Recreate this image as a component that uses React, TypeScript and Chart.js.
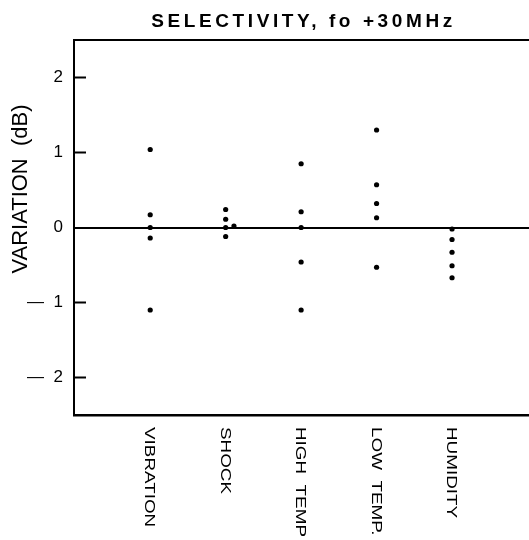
import React, { useEffect, useRef } from "react";
import { Chart, registerables } from "chart.js";

Chart.register(...registerables);

const categories = ["VIBRATION", "SHOCK", "HIGH  TEMP", "LOW  TEMP.", "HUMIDITY"];
const vibration = [1.04, 0.17, 0.0, -0.14, -1.1];
const shock = [0.24, 0.11, 0.0, -0.12, 0.02];
const shockXOffsets = [0, 0, 0, 0, 0.11];
const highTemp = [0.85, 0.21, 0.0, -0.46, -1.1];
const lowTemp = [1.3, 0.57, 0.32, 0.13, -0.53];
const humidity = [-0.02, -0.16, -0.33, -0.51, -0.67];
const yTickValues = [-2, -1, 0, 1, 2];
const titleText = "SELECTIVITY, fo +30MHz";
const yAxisTitle = "VARIATION  (dB)";

const seriesValues = [vibration, shock, highTemp, lowTemp, humidity];
const seriesOffsets = [null, shockXOffsets, null, null, null];

const FONT = "'Liberation Sans', Arial, sans-serif";

export default function App() {
  const ref = useRef<HTMLCanvasElement | null>(null);

  useEffect(() => {
    if (!ref.current) return;
    const points: { x: number; y: number }[] = [];
    seriesValues.forEach((vals, ci) => {
      const offs = seriesOffsets[ci];
      vals.forEach((v, i) => {
        points.push({ x: ci + 1 + (offs ? offs[i] : 0), y: v });
      });
    });

    const overlay = {
      id: "overlay",
      afterDraw(chart: any) {
        const ctx = chart.ctx as CanvasRenderingContext2D;
        const area = chart.chartArea;
        const xs = chart.scales.x;
        const ys = chart.scales.y;
        ctx.save();
        // top border
        ctx.strokeStyle = "#000";
        ctx.lineWidth = 2;
        ctx.beginPath();
        ctx.moveTo(area.left, area.top);
        ctx.lineTo(area.right, area.top);
        ctx.stroke();
        // inward ticks
        yTickValues.forEach((v) => {
          if (v === 0) return;
          const py = ys.getPixelForValue(v);
          ctx.beginPath();
          ctx.moveTo(area.left, py);
          ctx.lineTo(area.left + 12, py);
          ctx.stroke();
        });
        // title
        ctx.fillStyle = "#000";
        (ctx as any).letterSpacing = "3.6px";
        ctx.font = `bold 19px ${FONT}`;
        ctx.textAlign = "center";
        ctx.textBaseline = "middle";
        ctx.fillText(titleText, (area.left + area.right) / 2 + 2, 22);
        // y title
        (ctx as any).letterSpacing = "0px";
        ctx.save();
        ctx.translate(21, 189);
        ctx.rotate(-Math.PI / 2);
        ctx.font = `22px ${FONT}`;
        ctx.textAlign = "center";
        ctx.textBaseline = "middle";
        ctx.fillText(yAxisTitle, 0, 0);
        ctx.restore();
        // x category labels (rotated clockwise)
        categories.forEach((c, i) => {
          const px = xs.getPixelForValue(i + 1);
          ctx.save();
          ctx.translate(px - 1, 427);
          ctx.rotate(Math.PI / 2);
          ctx.scale(1.3, 1);
          ctx.font = `14.5px ${FONT}`;
          ctx.textAlign = "left";
          ctx.textBaseline = "middle";
          ctx.fillText(c, 0, 0);
          ctx.restore();
        });
        ctx.restore();
      },
    };

    const chart = new Chart(ref.current, {
      type: "scatter",
      data: {
        datasets: [
          {
            data: points,
            backgroundColor: "#000",
            borderColor: "#000",
            pointRadius: 2.6,
            pointBorderWidth: 0,
          },
        ],
      },
      options: {
        responsive: false,
        animation: false,
        devicePixelRatio: 1,
        layout: { autoPadding: false, padding: { top: 40, left: 0, right: 0, bottom: 0 } },
        plugins: {
          legend: { display: false },
          tooltip: { enabled: false },
          title: { display: false },
        },
        scales: {
          x: {
            type: "linear",
            min: -0.01,
            max: 6.02,
            ticks: { display: false },
            grid: { display: false, drawTicks: false },
            border: { display: true, color: "#000", width: 2.5 },
            afterFit: (scale: any) => {
              scale.height = 125;
            },
          },
          y: {
            type: "linear",
            min: -2.5,
            max: 2.5,
            afterBuildTicks: (scale: any) => {
              scale.ticks = yTickValues.map((v) => ({ value: v }));
            },
            afterFit: (scale: any) => {
              scale.width = 74;
            },
            ticks: {
              color: "#000",
              padding: 11,
              font: { family: FONT, size: 17 },
              callback: (v: any) => (v < 0 ? "—  " + Math.abs(v) : String(v)),
            },
            grid: {
              drawTicks: false,
              color: (c: any) => (c.tick && c.tick.value === 0 ? "#000" : "rgba(0,0,0,0)"),
              lineWidth: 2,
            },
            border: { display: true, color: "#000", width: 2 },
          },
        },
      },
      plugins: [overlay],
    });
    return () => chart.destroy();
  }, []);

  return (
    <div style={{ position: "fixed", left: 0, top: 0, width: 529, height: 540, background: "#fff" }}>
      <canvas ref={ref} width={529} height={540} style={{ display: "block" }} />
    </div>
  );
}
